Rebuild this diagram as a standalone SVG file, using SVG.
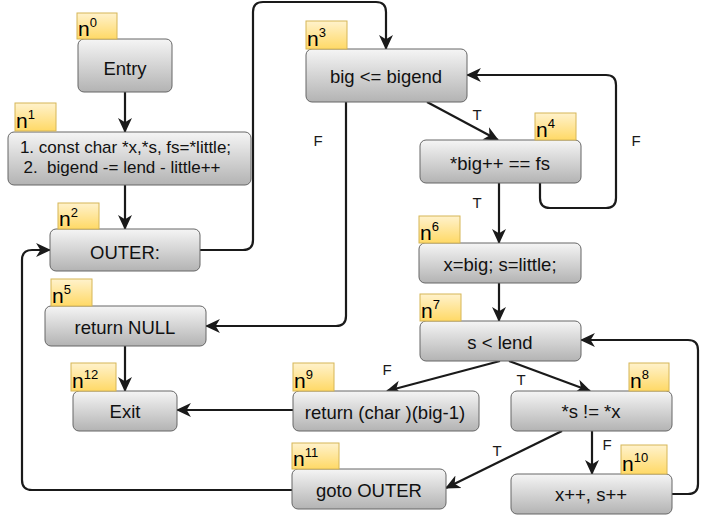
<svg xmlns="http://www.w3.org/2000/svg" width="710" height="517" viewBox="0 0 710 517">
<defs>
<linearGradient id="gBox" x1="0" y1="0" x2="0" y2="1">
<stop offset="0" stop-color="#f5f5f5"/>
<stop offset="1" stop-color="#b3b3b3"/>
</linearGradient>
<linearGradient id="gLbl" x1="0" y1="0" x2="0" y2="1">
<stop offset="0" stop-color="#fff2cc"/>
<stop offset="1" stop-color="#ffd966"/>
</linearGradient>
<marker id="arr" viewBox="0 0 14 14" refX="13" refY="7" markerWidth="15" markerHeight="15" markerUnits="userSpaceOnUse" orient="auto">
<path d="M0,0.5 L14,7 L0,13.5 L4,7 z" fill="#1a1a1a"/>
</marker>
<style>
.box{fill:url(#gBox);stroke:#666666;stroke-width:1}
.lbl{fill:url(#gLbl);stroke:#d6b656;stroke-width:1}
.t{font-family:"Liberation Sans",Arial,Helvetica,sans-serif;font-size:18.5px;fill:#111111;text-anchor:middle}
.n{font-family:"Liberation Sans",Arial,Helvetica,sans-serif;font-size:21px;fill:#000}
.sup{font-size:13px}
.e{fill:none;stroke:#1a1a1a;stroke-width:2.2;marker-end:url(#arr)}
.el{font-family:"Liberation Sans",Arial,Helvetica,sans-serif;font-size:15px;fill:#1a1a1a;text-anchor:middle}
</style>
</defs>
<rect width="710" height="517" fill="#ffffff"/>

<g id="connectors">
<path class="e" d="M125,92 L125,132"/>
<path class="e" d="M125,185 L125,229"/>
<path class="e" d="M200,250 L243,250 Q253,250 253,240 L253,12 Q253,2 263,2 L376,2 Q386,2 386,12 L386,49"/>
<path class="e" d="M346,102 L346,316 Q346,326 336,326 L206,326"/>
<path class="e" d="M427,102 L498,140"/>
<path class="e" d="M540,183 L540,198 Q540,208 550,208 L606,208 Q616,208 616,198 L616,85 Q616,75 606,75 L467,75"/>
<path class="e" d="M499,183 L499,243"/>
<path class="e" d="M499,283 L499,321"/>
<path class="e" d="M500,361 L387,391"/>
<path class="e" d="M509,361 L590,391"/>
<path class="e" d="M562,431 L446,488"/>
<path class="e" d="M592,431 L592,474"/>
<path class="e" d="M672,494 L688,494 Q698,494 698,484 L698,350 Q698,340 688,340 L581,340"/>
<path class="e" d="M293,410 L177,410"/>
<path class="e" d="M125,346 L125,391"/>
<path class="e" d="M292,490 L32,490 Q22,490 22,480 L22,260 Q22,250 32,250 L50,250"/>
<text class="el" x="318" y="146">F</text>
<text class="el" x="477" y="120">T</text>
<text class="el" x="636" y="146">F</text>
<text class="el" x="477" y="208">T</text>
<text class="el" x="387" y="375">F</text>
<text class="el" x="521" y="385">T</text>
<text class="el" x="497" y="456">T</text>
<text class="el" x="607" y="450">F</text>
</g>

<g id="n0">
<rect class="box" x="78" y="39" width="94" height="53" rx="6"/>
<text class="t" x="125" y="75">Entry</text>
<rect class="lbl" x="77" y="13" width="40" height="26"/>
<text class="n" x="78" y="36">n<tspan class="sup" dy="-9">0</tspan></text>
</g>

<g id="n1">
<rect class="box" x="8" y="132" width="243" height="53" rx="6"/>
<text class="t" style="font-size:17px" x="125.5" y="153">1. const char *x,*s, fs=*little;</text>
<text class="t" style="font-size:17px" x="122" y="173" xml:space="preserve">2.  bigend -= lend - little++</text>
<rect class="lbl" x="15" y="103" width="41" height="28"/>
<text class="n" x="16" y="128">n<tspan class="sup" dy="-9">1</tspan></text>
</g>

<g id="n2">
<rect class="box" x="50" y="229" width="150" height="42" rx="6"/>
<text class="t" x="125" y="259">OUTER:</text>
<rect class="lbl" x="58" y="203" width="41" height="26"/>
<text class="n" x="59" y="226">n<tspan class="sup" dy="-9">2</tspan></text>
</g>

<g id="n3">
<rect class="box" x="306" y="49" width="161" height="53" rx="6"/>
<text class="t" x="386" y="83">big &lt;= bigend</text>
<rect class="lbl" x="306" y="21" width="41" height="28"/>
<text class="n" x="307" y="46">n<tspan class="sup" dy="-9">3</tspan></text>
</g>

<g id="n4">
<rect class="box" x="420" y="140" width="161" height="43" rx="6"/>
<text class="t" x="500" y="170">*big++ == fs</text>
<rect class="lbl" x="535" y="113" width="41" height="27"/>
<text class="n" x="536" y="137">n<tspan class="sup" dy="-9">4</tspan></text>
</g>

<g id="n5">
<rect class="box" x="45" y="306" width="161" height="40" rx="6"/>
<text class="t" x="125" y="334">return NULL</text>
<rect class="lbl" x="51" y="279" width="41" height="27"/>
<text class="n" x="52" y="303">n<tspan class="sup" dy="-9">5</tspan></text>
</g>

<g id="n6">
<rect class="box" x="419" y="243" width="162" height="40" rx="6"/>
<text class="t" x="500" y="271">x=big; s=little;</text>
<rect class="lbl" x="419" y="216" width="41" height="27"/>
<text class="n" x="420" y="240">n<tspan class="sup" dy="-9">6</tspan></text>
</g>

<g id="n7">
<rect class="box" x="420" y="321" width="161" height="40" rx="6"/>
<text class="t" x="500" y="349">s &lt; lend</text>
<rect class="lbl" x="420" y="294" width="41" height="27"/>
<text class="n" x="421" y="318">n<tspan class="sup" dy="-9">7</tspan></text>
</g>

<g id="n8">
<rect class="box" x="511" y="391" width="161" height="40" rx="6"/>
<text class="t" x="591" y="418">*s != *x</text>
<rect class="lbl" x="629" y="363" width="40" height="28"/>
<text class="n" x="630" y="388">n<tspan class="sup" dy="-9">8</tspan></text>
</g>

<g id="n9">
<rect class="box" x="293" y="391" width="186" height="40" rx="6"/>
<text class="t" x="385" y="419">return (char )(big-1)</text>
<rect class="lbl" x="293" y="363" width="41" height="28"/>
<text class="n" x="294" y="388">n<tspan class="sup" dy="-9">9</tspan></text>
</g>

<g id="n10">
<rect class="box" x="511" y="474" width="161" height="40" rx="6"/>
<text class="t" x="591" y="501">x++, s++</text>
<rect class="lbl" x="621" y="445" width="46" height="29"/>
<text class="n" x="622" y="471">n<tspan class="sup" dy="-9">10</tspan></text>
</g>

<g id="n11">
<rect class="box" x="292" y="469" width="154" height="40" rx="6"/>
<text class="t" x="369" y="497">goto OUTER</text>
<rect class="lbl" x="292" y="443" width="47" height="26"/>
<text class="n" x="293" y="466">n<tspan class="sup" dy="-9">11</tspan></text>
</g>

<g id="n12">
<rect class="box" x="73" y="391" width="104" height="40" rx="6"/>
<text class="t" x="125" y="418">Exit</text>
<rect class="lbl" x="71" y="363" width="45" height="28"/>
<text class="n" x="72" y="388">n<tspan class="sup" dy="-9">12</tspan></text>
</g>
</svg>
